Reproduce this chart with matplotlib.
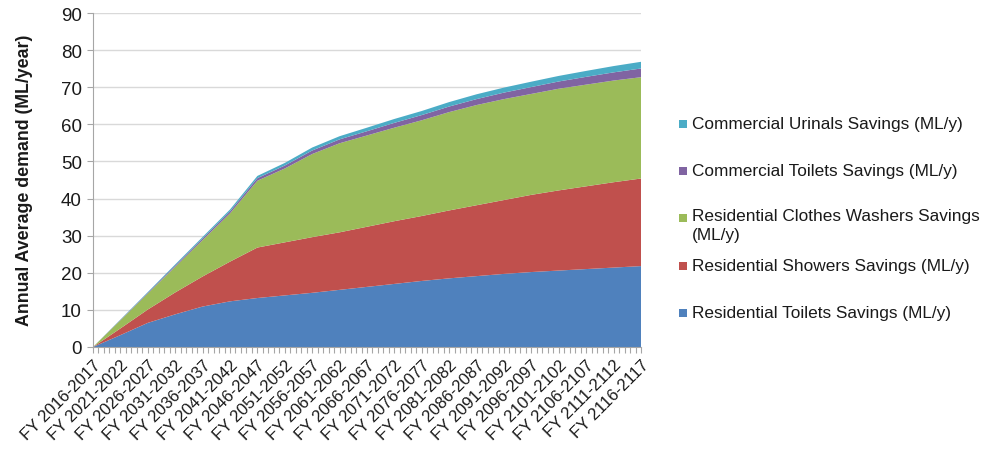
import matplotlib
matplotlib.use("Agg")
import matplotlib.pyplot as plt
from matplotlib.patches import Rectangle
import numpy as np

plt.rcParams["font.family"] = ["Liberation Sans", "DejaVu Sans"]

# Financial years (labelled every five years; axis runs annually)
fy_labels = ["FY 2016-2017", "FY 2021-2022", "FY 2026-2027", "FY 2031-2032",
             "FY 2036-2037", "FY 2041-2042", "FY 2046-2047", "FY 2051-2052",
             "FY 2056-2057", "FY 2061-2062", "FY 2066-2067", "FY 2071-2072",
             "FY 2076-2077", "FY 2081-2082", "FY 2086-2087", "FY 2091-2092",
             "FY 2096-2097", "FY 2101-2102", "FY 2106-2107", "FY 2111-2112",
             "FY 2116-2117"]

# Savings by end use (ML/y)
res_toilets = [0, 3.2, 6.5, 8.8, 10.9, 12.3, 13.2, 13.9, 14.6, 15.4, 16.2,
               17.0, 17.8, 18.5, 19.1, 19.7, 20.2, 20.6, 21.0, 21.4, 21.8]
res_showers = [0, 1.8, 3.6, 5.9, 8.1, 10.7, 13.6, 14.3, 15.0, 15.5, 16.2,
               16.9, 17.5, 18.3, 19.1, 19.9, 20.8, 21.6, 22.3, 23.0, 23.6]
res_washers = [0, 2.2, 4.3, 6.9, 9.8, 13.0, 18.0, 19.9, 22.4, 24.0, 24.6,
               25.2, 25.8, 26.5, 27.0, 27.2, 27.2, 27.4, 27.4, 27.4, 27.3]
com_toilets = [0, 0.1, 0.2, 0.35, 0.45, 0.55, 0.7, 0.8, 0.95, 1.05, 1.15,
               1.3, 1.4, 1.5, 1.6, 1.75, 1.85, 1.95, 2.1, 2.2, 2.35]
com_urinals = [0, 0.1, 0.2, 0.3, 0.4, 0.5, 0.6, 0.7, 0.8, 0.85, 0.95,
               1.05, 1.1, 1.2, 1.3, 1.35, 1.45, 1.5, 1.6, 1.7, 1.8]

series_names = ["Residential Toilets Savings (ML/y)",
                "Residential Showers Savings (ML/y)",
                "Residential Clothes Washers Savings\n(ML/y)",
                "Commercial Toilets Savings (ML/y)",
                "Commercial Urinals Savings (ML/y)"]
series_colors = ["#4F81BD", "#C0504D", "#9BBB59", "#8064A2", "#4BACC6"]

start_year = [int(lbl.split()[1].split("-")[0]) for lbl in fy_labels]
x = np.array(start_year) - start_year[0]

W, H = 990, 456
fig = plt.figure(figsize=(W / 100, H / 100), dpi=100)
ax = fig.add_axes([93 / W, 1 - 348 / H, 548 / W, 334 / H])

ax.stackplot(x, res_toilets, res_showers, res_washers, com_toilets, com_urinals,
             colors=series_colors, linewidth=0, zorder=2)

ax.set_xlim(0, 100)
ax.set_ylim(0, 90)
ax.set_yticks(np.arange(0, 91, 10))
ax.yaxis.grid(True, color="#D9D9D9", linewidth=1.0, zorder=0)
ax.set_axisbelow(True)

ax.set_xticks(x)
ax.set_xticklabels(fy_labels, rotation=45, ha="right", rotation_mode="anchor",
                   fontsize=12, color="#1a1a1a")
ax.set_xticks(np.arange(0, 101, 1), minor=True)
ax.tick_params(axis="x", which="both", length=4, width=0.8, color="#A6A6A6",
               direction="out", pad=3)
ax.tick_params(axis="y", length=4, width=0.8, color="#A6A6A6", labelsize=13.5,
               labelcolor="#1a1a1a", pad=4)

for side in ("top", "right"):
    ax.spines[side].set_visible(False)
for side in ("left", "bottom"):
    ax.spines[side].set_color("#A6A6A6")
    ax.spines[side].set_linewidth(0.8)

fig.text(25 / W, 1 - 180 / H, "Annual Average demand (ML/year)", rotation=90,
         ha="center", va="center", fontsize=12.8, fontweight="bold",
         color="#1a1a1a")

# Legend, top entry = top of the stack
legend_y = [125, 171.5, 219, 267, 313.5]
for name, color, yc in zip(series_names[::-1], series_colors[::-1], legend_y):
    yf = 1 - yc / H
    fig.patches.append(Rectangle((679 / W, yf - 4 / H), 8 / W, 8 / H,
                                 transform=fig.transFigure, facecolor=color,
                                 edgecolor="none"))
    if "\n" in name:
        fig.text(692 / W, yf + 10 / H, name, ha="left", va="top",
                 fontsize=12.4, color="#1a1a1a", linespacing=1.3)
    else:
        fig.text(692 / W, yf, name, ha="left", va="center",
                 fontsize=12.4, color="#1a1a1a")

fig.savefig("out.png", dpi=100)
